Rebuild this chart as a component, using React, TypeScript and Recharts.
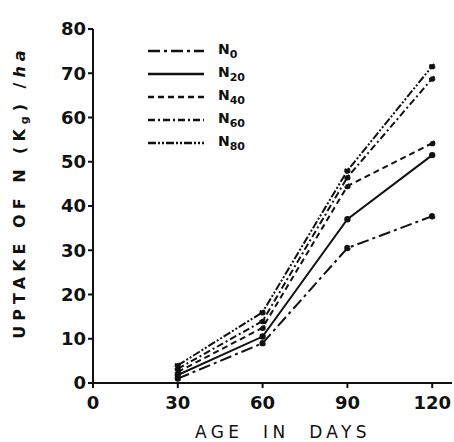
import { LineChart, Line, XAxis, YAxis, Legend } from "recharts";

// Age in days (x axis) and N uptake (kg/ha) per nitrogen level
const days = [30, 60, 90, 120];
const n0 = [1.0, 9.0, 30.5, 37.7];
const n20 = [1.8, 10.5, 37.0, 51.5];
const n40 = [2.5, 12.5, 44.5, 54.2];
const n60 = [3.2, 14.0, 46.5, 68.8];
const n80 = [4.0, 16.0, 48.0, 71.6];

const xTicks = [0, 30, 60, 90, 120];
const yTicks = [0, 10, 20, 30, 40, 50, 60, 70, 80];

const series = [
  { key: "N0", sub: "0", dash: "12 4 3 4" },
  { key: "N20", sub: "20", dash: undefined },
  { key: "N40", sub: "40", dash: "6 4" },
  { key: "N60", sub: "60", dash: "7 3 2 3" },
  { key: "N80", sub: "80", dash: "8 2 2 2 2 2" },
];

const data = days.map((d, i) => ({
  day: d,
  N0: n0[i],
  N20: n20[i],
  N40: n40[i],
  N60: n60[i],
  N80: n80[i],
}));

const FONT = "'DejaVu Sans', sans-serif";
const INK = "#111";

function renderLegend() {
  return (
    <div style={{ fontFamily: FONT }}>
      {series.map((s) => (
        <div key={s.key} style={{ display: "flex", alignItems: "center", height: 23 }}>
          <svg width={60} height={12}>
            <line x1={2} y1={6} x2={58} y2={6} stroke={INK} strokeWidth={2.4} strokeDasharray={s.dash} />
          </svg>
          <svg width={50} height={23}>
            <text x={12} y={15} fontSize={14} fontWeight="bold" fill={INK}>
              N
              <tspan fontSize={11} dy={4}>{s.sub}</tspan>
            </text>
          </svg>
        </div>
      ))}
    </div>
  );
}

function YTitle() {
  return (
    <text
      x={25}
      y={192}
      transform="rotate(-90,25,192)"
      textAnchor="middle"
      fontFamily={FONT}
      fontWeight="bold"
      fontSize={16}
      letterSpacing={5}
      fill={INK}
    >
      {"UPTAKE OF N (K"}
      <tspan fontSize={11} dy={3}>g</tspan>
      <tspan dy={-3}>{") /"}</tspan>
      <tspan fontStyle="italic">ha</tspan>
    </text>
  );
}

function XTitle() {
  return (
    <text
      x={283}
      y={438}
      textAnchor="middle"
      fontFamily={FONT}
      fontSize={17}
      letterSpacing={4.4}
      fill={INK}
      style={{ whiteSpace: "pre" }}
    >
      {"AGE  IN  DAYS"}
    </text>
  );
}

export default function App() {
  return (
    <div style={{ position: "absolute", left: 0, top: 0, background: "#fff" }}>
      <LineChart width={454} height={442} data={data} margin={{ top: 29, right: 2, left: 0, bottom: 0 }}>
        <XAxis
          dataKey="day"
          type="number"
          domain={[0, 127]}
          ticks={xTicks}
          allowDataOverflow
          height={59}
          tickSize={5}
          tickMargin={8}
          stroke={INK}
          strokeWidth={2}
          tick={{ fill: INK, fontFamily: FONT, fontSize: 18, fontWeight: "bold" }}
          label={{ content: () => <XTitle /> }}
        />
        <YAxis
          type="number"
          domain={[0, 80]}
          ticks={yTicks}
          width={93}
          tickSize={5}
          tickMargin={2}
          stroke={INK}
          strokeWidth={2}
          tick={{ fill: INK, fontFamily: FONT, fontSize: 18, fontWeight: "bold" }}
          label={{ content: () => <YTitle /> }}
        />
        <Legend
          layout="vertical"
          align="center"
          verticalAlign="middle"
          content={renderLegend}
          wrapperStyle={{ left: 146, top: 39, width: 120 }}
        />
        {series.map((s) => (
          <Line
            key={s.key}
            dataKey={s.key}
            type="linear"
            stroke={INK}
            strokeWidth={2}
            strokeDasharray={s.dash}
            dot={{ r: 2.2, fill: INK, stroke: INK }}
            isAnimationActive={false}
          />
        ))}
      </LineChart>
    </div>
  );
}
